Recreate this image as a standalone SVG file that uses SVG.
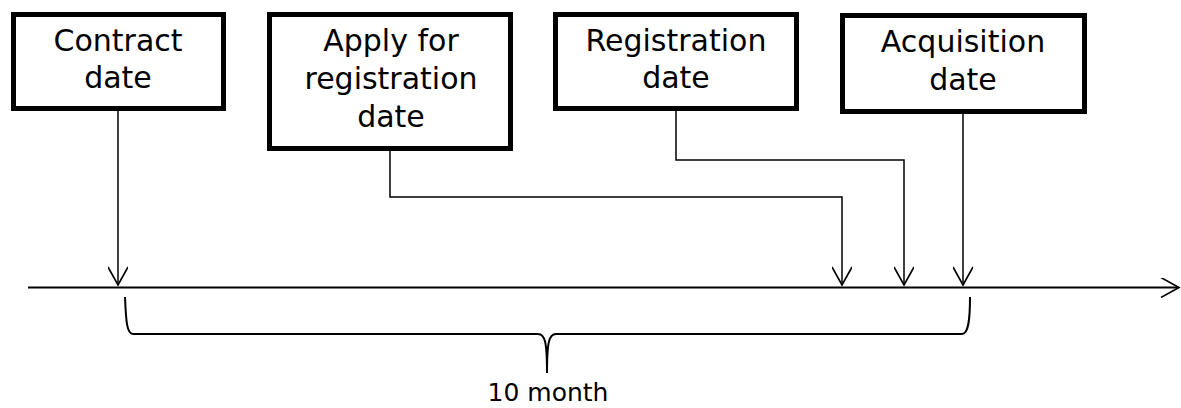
<svg xmlns="http://www.w3.org/2000/svg" width="1181" height="408" viewBox="0 0 1181 408">
<style>
.box{fill:#fff;stroke:#000;stroke-width:5;stroke-linejoin:miter}
.lbl{font-family:"DejaVu Sans",sans-serif;font-size:30px;fill:#000;text-anchor:middle}
.con{fill:none;stroke:#000;stroke-width:1.5}
.ax{fill:none;stroke:#000;stroke-width:2}
</style>
<defs>
<marker id="ah" markerWidth="24" markerHeight="20" refX="20" refY="10" orient="auto" markerUnits="userSpaceOnUse">
<path d="M2,0 L20,10 L2,20" fill="none" stroke="#000" stroke-width="1.6"/>
</marker>
</defs>
<rect width="1181" height="408" fill="#fff"/>
<g id="connectors">
<path class="ax" d="M28,287.5 L1179,287.5" marker-end="url(#ah)"/>
<path class="con" d="M118,111 L118,285" marker-end="url(#ah)"/>
<path class="con" d="M390,151 L390,197 L842,197 L842,285" marker-end="url(#ah)"/>
<path class="con" d="M676,111 L676,160 L904,160 L904,285" marker-end="url(#ah)"/>
<path class="con" d="M963,114 L963,285" marker-end="url(#ah)"/>
<path class="ax" d="M125,297 C126,322 127,334 133,334 L538,334 C545,334 547,342 547,373 C547,342 549,334 556,334 L962,334 C968,334 970,322 970,297"/>
</g>
<g id="contract">
<rect class="box" x="13.5" y="14.5" width="210" height="94"/>
<text class="lbl" x="118" y="51">Contract</text>
<text class="lbl" x="118" y="88">date</text>
</g>
<g id="apply">
<rect class="box" x="269.5" y="14.5" width="241" height="134"/>
<text class="lbl" x="391" y="51">Apply for</text>
<text class="lbl" x="391" y="89">registration</text>
<text class="lbl" x="391" y="127">date</text>
</g>
<g id="registration">
<rect class="box" x="555.5" y="14.5" width="241" height="94"/>
<text class="lbl" x="676" y="51">Registration</text>
<text class="lbl" x="676" y="88">date</text>
</g>
<g id="acquisition">
<rect class="box" x="842.5" y="15.5" width="242" height="96"/>
<text class="lbl" x="963" y="52">Acquisition</text>
<text class="lbl" x="963" y="90">date</text>
</g>
<g id="duration">
<text class="lbl" x="548" y="401" style="font-size:25px">10 month</text>
</g>
</svg>
